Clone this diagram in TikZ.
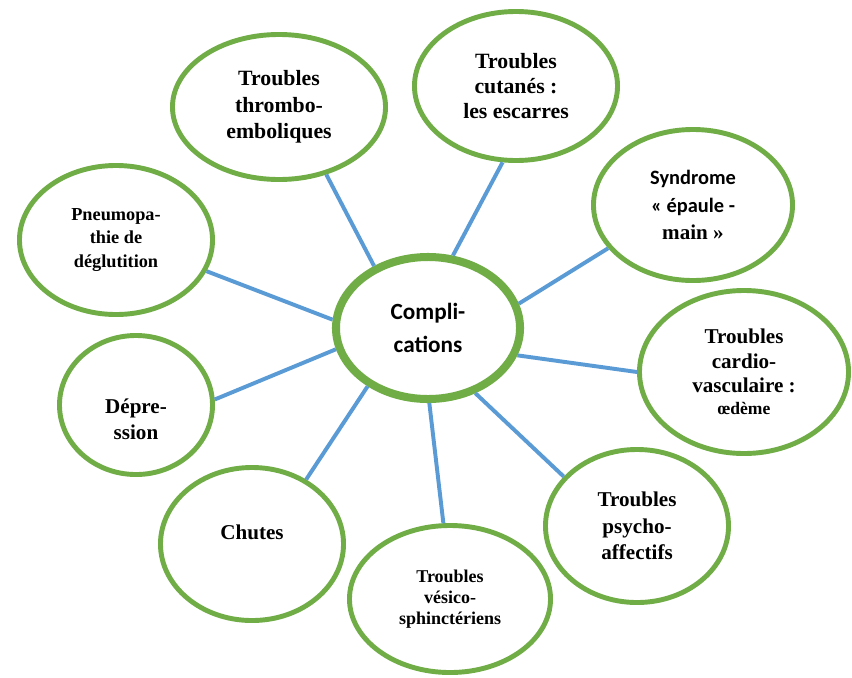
\documentclass[tikz,border=0pt]{standalone}
\usepackage{fontspec}
\setmainfont{Liberation Serif}
\newfontfamily\calibri{Carlito}
\usepackage{tikz}
\usetikzlibrary{shapes.geometric}

\definecolor{leaf}{HTML}{70AD47}
\definecolor{sky}{HTML}{5B9BD5}
\newcommand{\fs}[2]{\bfseries\fontsize{#1}{#2}\selectfont}
\newcommand{\down}[2]{\raisebox{-#1}[\height][\depth]{#2}}

\tikzset{
  bubble/.style={ellipse, draw=leaf, line width=3.5pt, fill=white, align=center, inner sep=0pt},
  link/.style={draw=sky, line width=2.8pt}
}

\begin{document}
\begin{tikzpicture}[x=0.025cm, y=-0.025cm]
  \useasboundingbox (0,0) rectangle (852,677);
  \node[bubble, line width=5.7pt, minimum width=4.6cm, minimum height=3.55cm, font=\calibri\fs{16.5}{23}] (0) at (428,328) {Compli-\\cations};
  \node[bubble, minimum width=4.825cm, minimum height=3.725cm, font=\fs{13}{16.4}] (1) at (116,240) {Pneumopa-\\thie de\\déglutition};
  \node[bubble, minimum width=5.325cm, minimum height=3.625cm, font=\fs{15.5}{19}] (2) at (279,107) {Troubles\\thrombo-\\emboliques};
  \node[bubble, minimum width=5.075cm, minimum height=3.725cm, font=\fs{15.5}{18}] (3) at (516,86) {Troubles\\cutanés :\\les escarres};
  \node[bubble, minimum width=4.975cm, minimum height=3.775cm, font=\fs{14.5}{19.5}] (4) at (693,205) {{\calibri Syndrome}\\{\calibri « épaule -}\\{\fontsize{15}{19.5}\selectfont main »}};
  \node[bubble, minimum width=5.225cm, minimum height=4.075cm, font=\fs{15}{17.5}] (5) at (744,372) {Troubles\\cardio-\\vasculaire :\\[-2pt]{\fontsize{12.5}{15}\selectfont œdème}};
  \node[bubble, minimum width=4.575cm, minimum height=3.825cm, font=\fs{15}{19}] (6) at (637,526) {Troubles\\psycho-\\affectifs};
  \node[bubble, minimum width=5.025cm, minimum height=3.675cm, font=\fs{12.8}{14.8}] (7) at (450,599) {Troubles\\vésico-\\sphinctériens};
  \node[bubble, minimum width=4.575cm, minimum height=3.825cm, font=\fs{15}{18}] (8) at (252,544) {\raisebox{8pt}[\height][\depth]{Chutes}};
  \node[bubble, minimum width=3.825cm, minimum height=3.475cm, font=\fs{15}{18.5}] (9) at (136,405) {\down{10pt}{Dépre-}\\\down{10pt}{ssion}};
  \draw[link] (1.-19) -- (0.175);
  \draw[link] (2.-55) -- (0.131);
  \draw[link] (3.-100) -- (0.71);
  \draw[link] (4.207) -- (0.15);
  \draw[link] (5.180) -- (0.-17);
  \draw[link] (6.146) -- (0.-54);
  \draw[link] (7.95) -- (0.-89);
  \draw[link] (8.50) -- (0.224);
  \draw[link] (9.4) -- (0.193);
\end{tikzpicture}
\end{document}
